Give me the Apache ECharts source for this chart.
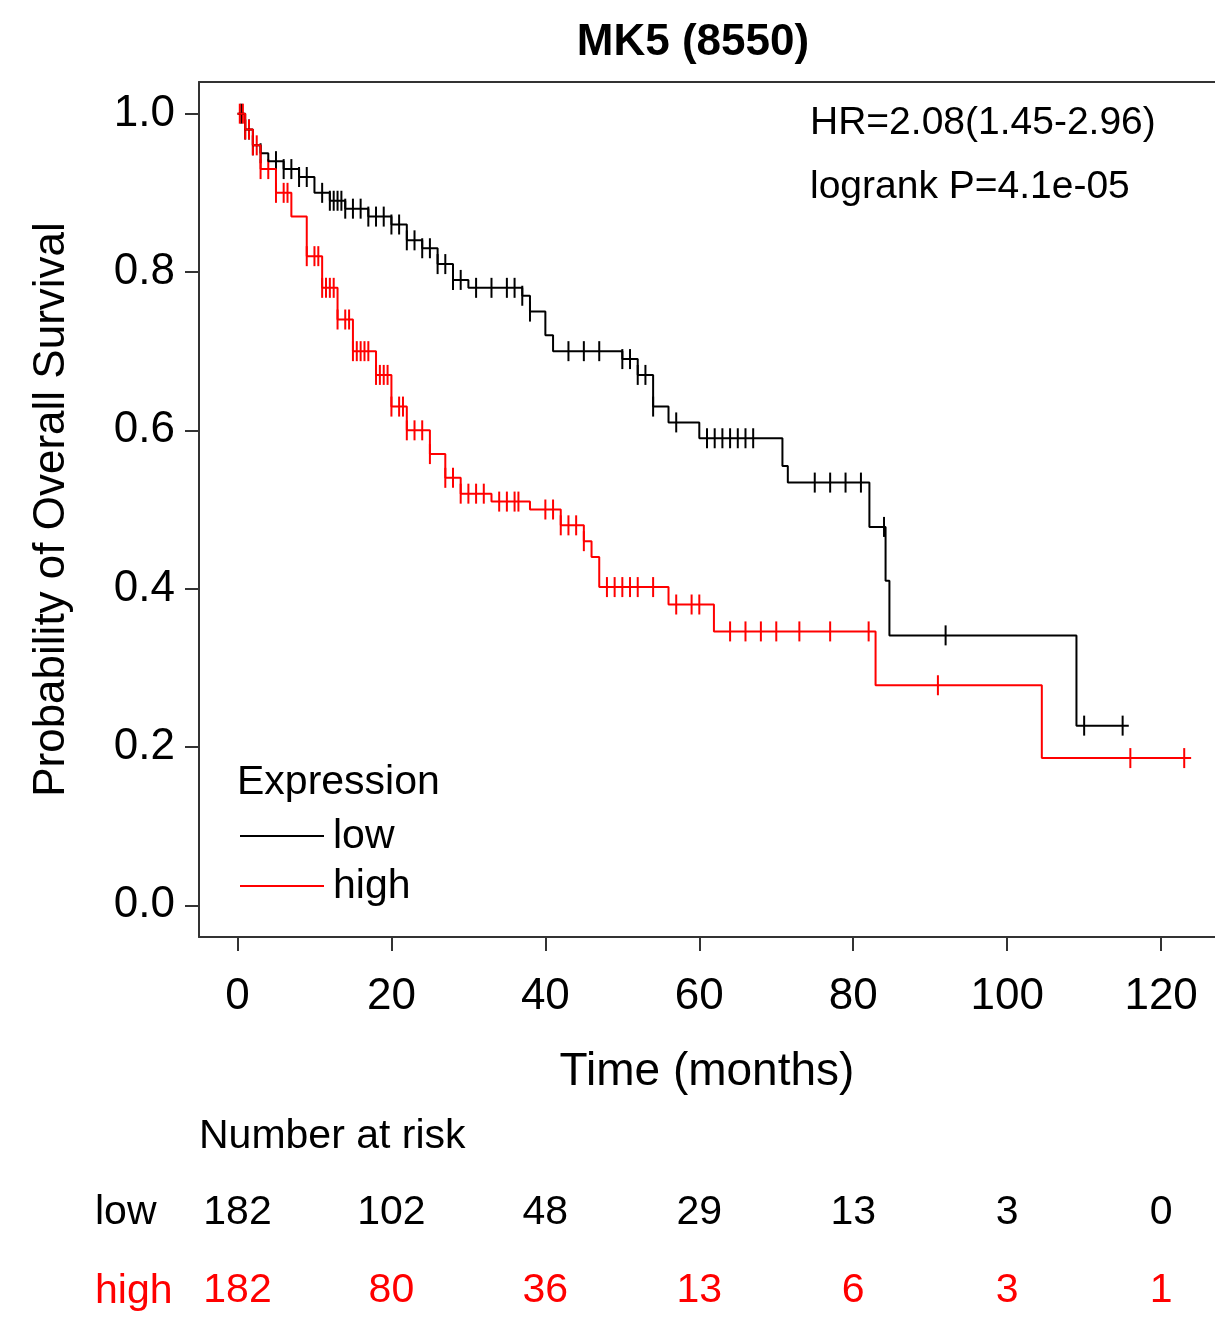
<!DOCTYPE html>
<html><head><meta charset="utf-8">
<script src="https://cdn.jsdelivr.net/npm/echarts@6/dist/echarts.min.js"></script>
<style>html,body{margin:0;padding:0;background:#fff}#c{width:1215px;height:1327px}</style>
</head><body><div id="c"></div>
<script>
// step curves [months, survival]
const lowSteps = [[0,1],[1,0.98],[2,0.96],[3,0.95],[4,0.94],[6,0.93],[8,0.92],[10,0.90],[12,0.89],[14,0.88],[17,0.87],[20,0.86],[22,0.84],[24,0.83],[26,0.81],[28,0.79],[30,0.78],[37,0.77],[38,0.75],[40,0.72],[41,0.70],[50,0.69],[52,0.67],[54,0.63],[56,0.61],[60,0.59],[70.8,0.555],[71.5,0.534],[82.1,0.478],[84.2,0.41],[84.7,0.341],[109,0.227],[115.8,0.227]];
const highSteps = [[0,1],[1,0.98],[2,0.96],[3,0.93],[5,0.90],[7,0.87],[9,0.82],[11,0.78],[13,0.74],[15,0.70],[18,0.67],[20,0.63],[22,0.60],[25,0.57],[27,0.54],[29,0.52],[33,0.51],[38,0.50],[42,0.48],[45,0.46],[46,0.44],[47,0.402],[56,0.38],[61.9,0.346],[82.9,0.278],[104.5,0.186],[123.9,0.186]];
const lowCensor = [0.5,1,1.5,2,3,5,6,7,8,9,11,12,12.5,13,13.5,14,15,16,17,18,19,20,21,22,23,24,25,26,27,28,29,31,33,35,36,37,38,43,45,47,50,51,52,53,54,57,61,62,63,64,65,66,67,75,77,79,81,84,92,110,115];
const highCensor = [0.3,0.7,1,1.5,2,2.5,3,4,5,6,6.5,9,10,10.5,11,11.5,12,12.5,13,14,14.5,15,15.5,16,16.5,17,18,18.5,19,19.5,20,21,21.5,22,23,24,25,27,28,29,30,31,32,34,35,36,36.5,40,41,42,43,44,45,48,49,50,51,52,54,57,59,60,64,66,68,70,73,77,82,91,116,123];
const xTicks = [0,20,40,60,80,100,120];
const yTicks = [0,0.2,0.4,0.6,0.8,1.0];
const riskTimes = [0,20,40,60,80,100,120];
const riskLow = [182,102,48,29,13,3,0];
const riskHigh = [182,80,36,13,6,3,1];

function survAt(steps, t) {
  let s = steps[0][1];
  for (const p of steps) { if (p[0] <= t) s = p[1]; }
  return s;
}
const F = 'Liberation Sans, Arial, sans-serif';
const chart = echarts.init(document.getElementById('c'));
chart.setOption({
  animation: false,
  textStyle: {fontFamily: F},
  title: {text: 'MK5 (8550)', left: 688, textAlign: 'center', top: 16,
    textStyle: {fontSize: 44, fontWeight: 'bold', color: '#000', fontFamily: F}},
  grid: [
    {left: 199, right: 0, top: 82, height: 855},
    {left: 199, right: 0, top: 1170, height: 160}
  ],
  xAxis: [
    {gridIndex: 0, type: 'value', min: -5, max: 127,
      axisLine: {show: true, onZero: false, lineStyle: {color: '#333', width: 2}},
      axisTick: {show: true, length: 14, customValues: xTicks, lineStyle: {color: '#333', width: 2}},
      axisLabel: {customValues: xTicks, fontSize: 44, color: '#000', margin: 38},
      splitLine: {show: false},
      name: 'Time (months)', nameLocation: 'middle', nameGap: 112,
      nameTextStyle: {fontSize: 46, color: '#000'}},
    {gridIndex: 0, type: 'value', position: 'top', min: -5, max: 127,
      axisLine: {show: true, onZero: false, lineStyle: {color: '#333', width: 2}},
      axisTick: {show: false}, axisLabel: {show: false}, splitLine: {show: false}},
    {gridIndex: 1, type: 'value', min: -5, max: 127, show: false}
  ],
  yAxis: [
    {gridIndex: 0, type: 'value', min: -0.04, max: 1.04,
      axisLine: {show: true, onZero: false, lineStyle: {color: '#333', width: 2}},
      axisTick: {show: true, length: 14, customValues: yTicks, lineStyle: {color: '#333', width: 2}},
      axisLabel: {customValues: yTicks, fontSize: 44, color: '#000', margin: 24,
        formatter: v => v.toFixed(1)},
      splitLine: {show: false},
      name: 'Probability of Overall Survival', nameLocation: 'middle', nameGap: 125,
      nameTextStyle: {fontSize: 44, color: '#000'}},
    {gridIndex: 1, type: 'value', min: 0, max: 2, inverse: true, show: false}
  ],
  graphic: [
    {type: 'text', left: 810, top: 104, style: {text: 'HR=2.08(1.45-2.96)', fontSize: 39, fill: '#000', fontFamily: F}},
    {type: 'text', left: 810, top: 168, style: {text: 'logrank P=4.1e-05', fontSize: 39, fill: '#000', fontFamily: F}},
    {type: 'text', left: 237, top: 762, style: {text: 'Expression', fontSize: 41, fill: '#000', fontFamily: F}},
    {type: 'line', shape: {x1: 240, y1: 836, x2: 324, y2: 836}, style: {stroke: '#000', lineWidth: 2}},
    {type: 'text', left: 333, top: 816, style: {text: 'low', fontSize: 41, fill: '#000', fontFamily: F}},
    {type: 'line', shape: {x1: 240, y1: 886, x2: 324, y2: 886}, style: {stroke: '#f00', lineWidth: 2}},
    {type: 'text', left: 333, top: 866, style: {text: 'high', fontSize: 41, fill: '#000', fontFamily: F}},
    {type: 'text', left: 199, top: 1116, style: {text: 'Number at risk', fontSize: 41, fill: '#000', fontFamily: F}},
    {type: 'text', left: 95, top: 1192, style: {text: 'low', fontSize: 41, fill: '#000', fontFamily: F}},
    {type: 'text', left: 95, top: 1271, style: {text: 'high', fontSize: 41, fill: '#f00', fontFamily: F}}
  ],
  series: [
    {type: 'line', step: 'end', data: lowSteps, showSymbol: false, lineStyle: {color: '#000', width: 2}},
    {type: 'line', step: 'end', data: highSteps, showSymbol: false, lineStyle: {color: '#f00', width: 2}},
    {type: 'scatter', symbol: 'rect', symbolSize: [2, 20], itemStyle: {color: '#000', opacity: 1},
      data: lowCensor.map(t => [t, survAt(lowSteps, t)])},
    {type: 'scatter', symbol: 'rect', symbolSize: [2, 20], itemStyle: {color: '#f00', opacity: 1},
      data: highCensor.map(t => [t, survAt(highSteps, t)])},
    {type: 'scatter', xAxisIndex: 2, yAxisIndex: 1, symbolSize: 0, itemStyle: {opacity: 1},
      data: riskTimes.map((t, i) => [t, 0.55, riskLow[i]]),
      label: {show: true, position: 'inside', formatter: p => p.data[2], fontSize: 41, color: '#000', textBorderWidth: 0}},
    {type: 'scatter', xAxisIndex: 2, yAxisIndex: 1, symbolSize: 0, itemStyle: {opacity: 1},
      data: riskTimes.map((t, i) => [t, 1.54, riskHigh[i]]),
      label: {show: true, position: 'inside', formatter: p => p.data[2], fontSize: 41, color: '#f00', textBorderWidth: 0}}
  ]
});
</script></body></html>
